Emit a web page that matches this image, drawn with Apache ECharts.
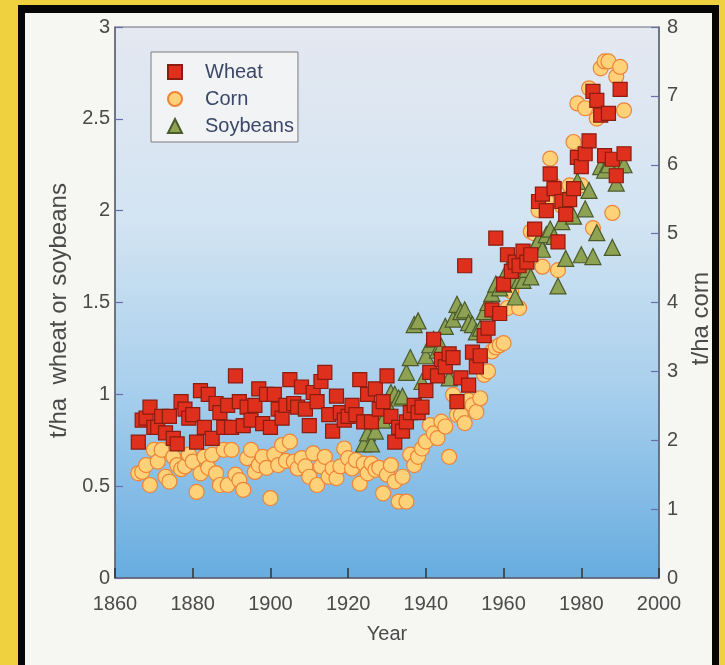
<!DOCTYPE html>
<html><head><meta charset="utf-8">
<script src="https://cdn.jsdelivr.net/npm/echarts/dist/echarts.min.js"></script>
<style>
html,body{margin:0;padding:0;width:725px;height:665px;overflow:hidden;background:#efd03e;}
#frame{position:absolute;left:18px;top:5px;width:701px;height:660px;background:#060606;}
#paper{position:absolute;left:25px;top:13px;width:687px;height:652px;background:#f6f6f3;}
#chart{position:absolute;left:0;top:0;width:725px;height:665px;}
</style></head><body>
<div id="frame"></div><div id="paper"></div><div id="chart"></div>
<script>
// ---- data ----
const xTicks = [1860, 1880, 1900, 1920, 1940, 1960, 1980, 2000];
const seriesNames = ['Wheat', 'Corn', 'Soybeans'];

const wheatStart = 1866; // t/ha, one value per year 1866..1991
const wheat = [
  0.74,0.86,0.87,0.93,0.82,0.82,0.88,0.79,0.88,0.76, // 1866-1875
  0.73,0.96,0.92,0.87,0.89,0.74,1.02,0.82,1.00,0.76, // 1876-1885
  0.95,0.90,0.82,0.94,0.82,1.10,0.96,0.83,0.93,0.86, // 1886-1895
  0.94,1.03,0.84,1.00,0.82,1.00,0.92,0.87,0.94,1.08, // 1896-1905
  0.95,0.93,1.04,0.92,0.83,1.01,0.96,1.07,1.12,0.89, // 1906-1915
  0.80,0.99,0.90,0.86,0.88,0.94,0.89,1.08,0.85,1.00, // 1916-1925
  0.85,1.03,0.92,0.96,1.10,0.88,0.74,0.82,0.80,0.85, // 1926-1935
  0.90,0.94,0.90,0.93,1.02,1.12,1.30,1.10,1.19,1.15, // 1936-1945
  1.22,1.20,0.96,1.09,1.70,1.05,1.23,1.15,1.21,1.32, // 1946-1955
  1.36,1.46,1.85,1.44,1.60,1.76,1.67,1.72,1.70,1.78, // 1956-1965
  1.72,1.76,1.90,2.05,2.09,2.00,2.20,2.12,1.83,2.05, // 1966-1975
  1.98,2.06,2.12,2.29,2.24,2.31,2.38,2.65,2.60,2.52, // 1976-1985
  2.30,2.53,2.28,2.19,2.66,2.31                      // 1986-1991
];

const cornStart = 1866; // t/ha (right axis), 1866..1991
const corn = [
  1.52,1.54,1.64,1.35,1.86,1.69,1.86,1.47,1.40,1.76, // 1866-1875
  1.64,1.58,1.62,1.79,1.69,1.25,1.52,1.76,1.60,1.79, // 1876-1885
  1.52,1.35,1.86,1.35,1.86,1.50,1.42,1.28,1.74,1.86, // 1886-1895
  1.54,1.64,1.76,1.60,1.16,1.79,1.64,1.93,1.70,1.98, // 1896-1905
  1.69,1.59,1.74,1.62,1.47,1.81,1.35,1.62,1.76,1.47, // 1906-1915
  1.59,1.45,1.62,1.88,1.74,1.59,1.71,1.37,1.66,1.52, // 1916-1925
  1.66,1.57,1.60,1.23,1.50,1.64,1.40,1.11,1.47,1.11, // 1926-1935
  1.79,1.64,1.76,1.88,1.98,2.22,2.10,2.03,2.27,2.20, // 1936-1945
  1.76,2.66,2.37,2.37,2.25,2.58,2.51,2.41,2.61,2.95, // 1946-1955
  3.00,3.29,3.35,3.38,3.41,3.92,4.16,4.30,3.92,4.60, // 1956-1965
  4.60,5.03,5.00,5.34,4.52,5.49,6.09,5.70,4.47,5.40, // 1966-1975
  5.50,5.70,6.33,6.89,5.70,6.82,7.11,5.08,6.67,7.40, // 1976-1985
  7.50,7.50,5.30,7.28,7.42,6.79                      // 1986-1991
];

const soyStart = 1924; // t/ha, 1924..1991
const soybeans = [
  0.73,0.79,0.73,0.80,0.90,0.86,0.95,1.01,1.00,0.98, // 1924-1933
  0.99,1.12,1.20,1.38,1.40,1.07,1.21,1.27,1.30,1.24, // 1934-1943
  1.26,1.37,1.09,1.41,1.49,1.45,1.46,1.39,1.38,1.34, // 1944-1953
  1.36,1.45,1.50,1.55,1.60,1.58,1.60,1.68,1.63,1.53, // 1954-1963
  1.62,1.62,1.68,1.64,1.80,1.84,1.79,1.87,1.90,1.86, // 1964-1973
  1.59,1.94,1.74,2.00,1.97,2.16,1.76,2.01,2.11,1.75, // 1974-1983
  1.88,2.24,2.22,2.25,1.80,2.15,2.25,2.25            // 1984-1991
];

function pairs(start, vals) { return vals.map((v, i) => [start + i, v]); }

const font = 'Liberation Sans, Arial, Helvetica, sans-serif';
const labelColor = '#4a4a4a';
const axisLineColor = '#5d6372';
const tickColor = '#6a6ea6';
const plain = v => String(v);

const chart = echarts.init(document.getElementById('chart'), null, { renderer: 'canvas' });
chart.setOption({
  animation: false,
  backgroundColor: 'transparent',
  textStyle: { fontFamily: font },
  grid: {
    left: 115, right: 66, top: 27, bottom: 87,
    show: true,
    borderColor: '#6a6f7a', borderWidth: 1,
    backgroundColor: {
      type: 'linear', x: 0, y: 0, x2: 0, y2: 1,
      colorStops: [
        { offset: 0, color: '#e4e8f1' },
        { offset: 0.35, color: '#d3e4f2' },
        { offset: 0.65, color: '#a9d0ed' },
        { offset: 1, color: '#67ace0' }
      ]
    }
  },
  legend: {
    orient: 'vertical', left: 151, top: 52,
    itemWidth: 14, itemHeight: 14, itemGap: 7,
    padding: [10, 4, 6, 16],
    backgroundColor: '#f2f3f5', borderColor: '#7c7c7c', borderWidth: 1,
    textStyle: { fontSize: 20, color: '#3b4766', fontFamily: font, padding: [0, 0, 0, 18] },
    data: seriesNames
  },
  xAxis: {
    type: 'value', min: xTicks[0], max: xTicks[xTicks.length - 1], interval: 20,
    splitLine: { show: false },
    axisLine: { show: true, lineStyle: { color: axisLineColor, width: 1.5 } },
    axisTick: { show: true, inside: true, length: 10, lineStyle: { color: '#333', width: 1.5 } },
    axisLabel: { fontSize: 20, color: labelColor, margin: 16, fontFamily: font, formatter: plain },
    name: 'Year', nameLocation: 'middle', nameGap: 46,
    nameTextStyle: { fontSize: 20, color: labelColor, fontFamily: font }
  },
  yAxis: [
    {
      type: 'value', min: 0, max: 3, interval: 0.5, position: 'left',
      splitLine: { show: false },
      axisLine: { show: true, lineStyle: { color: axisLineColor, width: 1.5 } },
      axisTick: { show: true, inside: true, length: 8, lineStyle: { color: tickColor, width: 1.2 } },
      axisLabel: { fontSize: 20, color: labelColor, margin: 5, fontFamily: font, formatter: plain },
      name: 't/ha  wheat or soybeans', nameLocation: 'middle', nameGap: 42, nameRotate: 90,
      nameTextStyle: { fontSize: 24, color: labelColor, fontFamily: font, padding: [0, 16, 0, 0] }
    },
    {
      type: 'value', min: 0, max: 8, interval: 1, position: 'right',
      splitLine: { show: false },
      axisLine: { show: true, lineStyle: { color: axisLineColor, width: 1.5 } },
      axisTick: { show: true, inside: true, length: 8, lineStyle: { color: tickColor, width: 1.2 } },
      axisLabel: { fontSize: 20, color: labelColor, margin: 8, fontFamily: font, formatter: plain },
      name: 't/ha corn', nameLocation: 'middle', nameGap: 30, nameRotate: 90,
      nameTextStyle: { fontSize: 24, color: labelColor, fontFamily: font, padding: [0, 32, 0, 0] }
    }
  ],
  series: [
    {
      name: 'Corn', type: 'scatter', yAxisIndex: 1, symbol: 'circle', symbolSize: 15,
      data: pairs(cornStart, corn), z: 2,
      itemStyle: { color: '#ffd279', borderColor: '#ee8437', borderWidth: 1.2, opacity: 1 },
      emphasis: { disabled: true }
    },
    {
      name: 'Soybeans', type: 'scatter', yAxisIndex: 0, symbol: 'triangle', symbolSize: 16,
      data: pairs(soyStart, soybeans), z: 3,
      itemStyle: { color: '#8da253', borderColor: '#4b5a2b', borderWidth: 1.2, opacity: 1 },
      emphasis: { disabled: true }
    },
    {
      name: 'Wheat', type: 'scatter', yAxisIndex: 0, symbol: 'rect', symbolSize: 14,
      data: pairs(wheatStart, wheat), z: 4,
      itemStyle: { color: '#df2f1d', borderColor: '#8a1c10', borderWidth: 1.2, opacity: 1 },
      emphasis: { disabled: true }
    }
  ]
});
</script></body></html>
